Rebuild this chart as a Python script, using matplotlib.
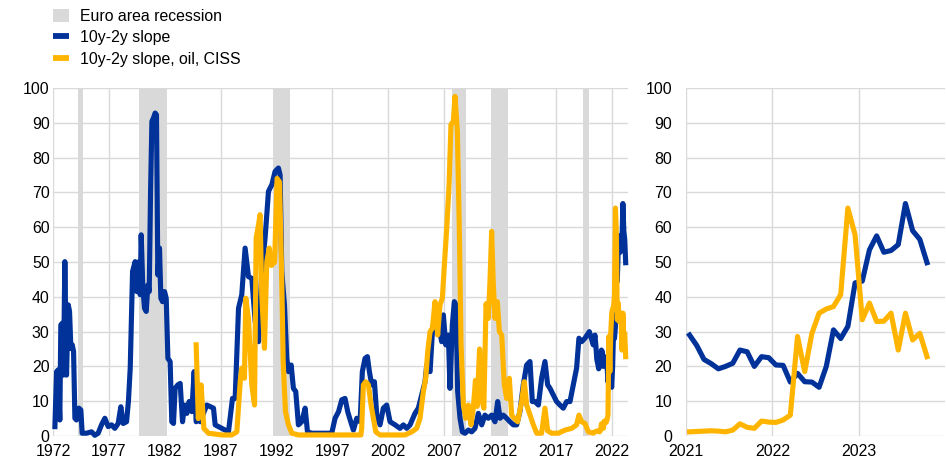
import matplotlib
matplotlib.use("Agg")
import matplotlib.pyplot as plt
from matplotlib.patches import Patch
from matplotlib.lines import Line2D

plt.rcParams['font.family'] = ['Liberation Sans', 'DejaVu Sans']

BLUE = '#003299'
YELLOW = '#FFB400'
GREY = '#D9D9D9'
GRID = '#D9D9D9'
FS = 11.4

# ---------------- data ----------------
legend_labels = ["Euro area recession", "10y-2y slope", "10y-2y slope, oil, CISS"]

# Euro area recessions (decimal years)
recession_start = [1974.75, 1980.25, 1992.25, 2008.25, 2011.75, 2020.0]
recession_end = [1975.25, 1982.75, 1993.75, 2009.5, 2013.25, 2020.5]

# Historical part of the series (decimal years, probability in %)
slope_dates = [
    1972.72, 1972.87, 1973.01, 1973.16, 1973.25, 1973.37, 1973.49, 1973.61, 1973.76, 1973.91,
    1974.03, 1974.15, 1974.27, 1974.39, 1974.51, 1974.65, 1974.86, 1975.04, 1975.16, 1975.55,
    1976.0, 1976.29, 1976.59, 1976.89, 1977.19, 1977.49, 1977.79, 1978.08, 1978.38, 1978.62,
    1978.83, 1979.13, 1979.3, 1979.46, 1979.67, 1979.9, 1980.05, 1980.2, 1980.35, 1980.44,
    1980.59, 1980.74, 1980.89, 1981.04, 1981.16, 1981.28, 1981.4, 1981.54, 1981.69, 1981.81,
    1981.93, 1982.08, 1982.2, 1982.35, 1982.53, 1982.68, 1982.83, 1983.03, 1983.18, 1983.33,
    1983.48, 1983.72, 1983.93, 1984.14, 1984.32, 1984.53, 1984.73, 1984.97, 1985.18, 1985.36,
    1985.57, 1985.72, 1986.31, 1986.91, 1987.06, 1987.66, 1988.25, 1988.61, 1988.85, 1989.15,
    1989.44, 1989.74, 1990.04, 1990.34, 1990.64, 1990.94, 1991.23, 1991.53, 1991.83, 1992.13,
    1992.42, 1992.72, 1992.87, 1993.02, 1993.26, 1993.47, 1993.62, 1993.86, 1994.06, 1994.27,
    1994.51, 1994.81, 1995.11, 1995.32, 1995.7, 1997.49, 1997.79, 1998.1, 1998.39, 1998.68,
    1998.92, 1999.2, 1999.43, 1999.73, 2000.03, 2000.23, 2000.47, 2000.68, 2000.86, 2001.07,
    2001.31, 2001.52, 2001.81, 2002.11, 2002.41, 2002.71, 2003.16, 2003.6, 2003.9, 2004.2,
    2004.5, 2004.94, 2005.24, 2005.54, 2005.84, 2005.99, 2006.29, 2006.5, 2006.73, 2007.03,
    2007.33, 2007.48, 2007.69, 2007.93, 2008.07, 2008.28, 2008.46, 2008.61, 2008.76, 2008.97,
    2009.18, 2009.42, 2009.72, 2010.01, 2010.31, 2010.61, 2010.91, 2011.2, 2011.5, 2011.8,
    2012.1, 2012.34, 2012.55, 2012.84, 2013.14, 2013.44, 2013.74, 2014.04, 2014.33, 2014.63,
    2014.93, 2015.23, 2015.44, 2015.68, 2015.98, 2016.27, 2016.57, 2016.81, 2017.02, 2017.32,
    2017.61, 2017.91, 2018.21, 2018.51, 2018.81, 2019.1, 2019.4, 2019.61, 2019.85, 2020.15,
    2020.54, 2020.89,
]
slope_values = [
    2.7, 18.5, 19, 4.6, 31.9, 32.4, 17.5, 50.1, 17.5, 37.7,
    35.8, 25.2, 26.2, 24.3, 5.1, 4.6, 8, 7.5, 0.8, 0.8,
    1.2, 0.2, 0.8, 3.2, 5.1, 2.7, 3.2, 2.2, 3.6, 8.4,
    3.6, 4.1, 10, 19.5, 47.3, 50.1, 41.5, 50, 40.6, 57.8,
    42.5, 36.7, 35.8, 43.4, 41.5, 70.3, 90.4, 91.4, 92.8, 92.3,
    46.3, 54, 39.6, 38.6, 41.5, 39.6, 22.3, 21.4, 4.1, 3.6,
    13.7, 14.7, 15.1, 4.1, 8.9, 6.5, 9.9, 7, 18.5, 4.1,
    5.1, 4.1, 8.9, 8, 3.2, 2.2, 1.2, 10.8, 10.8, 36.7,
    40.6, 54, 45.8, 45.3, 32.9, 27.1, 47.3, 57, 70.3, 72.2,
    76, 77, 75, 47.3, 37.7, 22.3, 18.5, 20.4, 13.7, 12.8,
    3.2, 4.1, 8, 1.2, 0.8, 0.8, 5.1, 7, 10.4, 10.8,
    7, 4, 1.7, 5.1, 4.1, 18.5, 22.3, 22.8, 18.5, 14.7,
    15.6, 6, 3.2, 8, 8.9, 4.1, 3.2, 2.2, 3.2, 2.2,
    3.2, 6.5, 8, 11.8, 15.6, 20.4, 18.5, 30, 34.8, 31.9,
    27.1, 34.8, 26.2, 29, 13.7, 31.9, 38.6, 37.7, 12.8, 5.1,
    1.2, 0.8, 1.7, 1.2, 2.2, 6.5, 3.2, 6, 5.1, 6,
    4.1, 9.9, 5.1, 6, 5.1, 4.1, 3.2, 3.2, 7, 14.7,
    20.4, 21.4, 9.9, 9.9, 8.9, 16.6, 21.4, 14.7, 13.7, 11.8,
    9.9, 8.9, 8, 9.9, 9.9, 14.7, 19.5, 28.1, 27.1, 28.1,
    30, 26.2,
]

full_dates = [
    1985.36, 1985.55, 1985.8, 1986.05, 1986.46, 1987.66, 1988.55, 1989.0, 1989.3, 1989.44,
    1989.68, 1989.8, 1990.04, 1990.34, 1990.58, 1990.73, 1990.94, 1991.08, 1991.23, 1991.47,
    1991.68, 1991.9, 1992.1, 1992.38, 1992.6, 1992.82, 1993.0, 1993.15, 1993.35, 1993.62,
    1993.92, 1994.51, 2000.1, 2000.17, 2000.32, 2000.53, 2000.77, 2001.01, 2001.22, 2001.43,
    2001.81, 2004.05, 2004.65, 2005.09, 2005.39, 2005.69, 2005.9, 2006.08, 2006.29, 2006.5,
    2006.73, 2006.97, 2007.18, 2007.39, 2007.57, 2007.78, 2007.99, 2008.16, 2008.37, 2008.52,
    2008.73, 2008.91, 2009.06, 2009.27, 2009.48, 2009.72, 2009.95, 2010.16, 2010.35, 2010.5,
    2010.72, 2010.92, 2011.1, 2011.3, 2011.5, 2011.65, 2011.8, 2011.95, 2012.1, 2012.31,
    2012.49, 2012.7, 2012.93, 2013.14, 2013.38, 2013.59, 2013.83, 2014.13, 2014.48, 2014.72,
    2014.93, 2015.23, 2015.53, 2015.83, 2016.27, 2016.57, 2016.81, 2017.17, 2017.76, 2018.36,
    2018.96, 2019.4, 2019.61, 2019.85, 2020.15, 2020.45, 2020.89,
]
full_values = [
    26.2, 5, 14.7, 2.2, 0.8, 0.3, 0.3, 1.2, 15.6, 19.5,
    16.6, 39.6, 33.8, 14.7, 8.9, 56.9, 60.7, 63.6, 40.6, 25.2,
    50, 54, 49, 50, 74, 73, 48, 21, 7, 3.2,
    0.8, 0.3, 0.3, 2.2, 14.7, 15.6, 14.7, 8.9, 5.1, 1.2,
    0.3, 0.3, 1.2, 2.2, 5.1, 12.8, 16.6, 24.3, 30, 31,
    38.6, 29, 37.7, 39.6, 49.2, 59.7, 72.2, 89.5, 90.4, 97.6,
    87.6, 58.8, 26.2, 8.9, 5.1, 8.9, 3.2, 8, 16, 8.5,
    25, 10.5, 8, 38, 33.8, 44.5, 58.8, 43.4, 33.8, 38.6,
    30, 29, 14.7, 10.8, 16.6, 6, 5.1, 4.1, 9.9, 15.6,
    8.9, 6, 3.2, 0.8, 0.8, 8, 1.5, 0.8, 0.8, 1.7,
    2.2, 3.2, 6, 4.1, 3.6, 1.2, 0.8,
]

# Monthly values, January 2021 - October 2023
recent_months = 34
slope_recent = [29, 26, 22, 20.8, 19.3, 20, 20.9, 24.7, 24.2, 20,
                22.8, 22.5, 20.4, 20.3, 15.5, 18, 15.6, 15.5, 14, 20,
                30.5, 28, 31.5, 44, 44.5, 53.5, 57.5, 52.8, 53.3, 55,
                66.8, 59, 56.5, 49.8]
full_recent = [1.2, 1.3, 1.4, 1.5, 1.4, 1.2, 1.7, 3.5, 2.5, 2.2,
               4.3, 4.0, 3.9, 4.6, 6, 28.6, 18.5, 29.5, 35.3, 36.5,
               37.2, 40.6, 65.5, 57.8, 33.4, 38.2, 32.9, 33, 35.3, 24.7,
               35.3, 27.6, 29.5, 22.8]

left_tick_years = [1972, 1977, 1982, 1987, 1992, 1997, 2002, 2007, 2012, 2017, 2022]
right_tick_years = [2021, 2022, 2023]
y_ticks = list(range(0, 101, 10))

assert len(slope_dates) == len(slope_values)
assert len(full_dates) == len(full_values)

recent_dates = [2021 + (m + 0.5) / 12 for m in range(recent_months)]

# ---------------- figure ----------------
W, H = 946, 466
fig = plt.figure(figsize=(W / 100, H / 100), dpi=100)
ax1 = fig.add_axes([53 / W, 30 / H, 575 / W, 348 / H])
ax2 = fig.add_axes([686 / W, 30 / H, 259 / W, 348 / H])

LW = 3.7
TICK_OFFSET = 0.55  # label positions in the left panel sit mid-year

for ax in (ax1, ax2):
    ax.set_ylim(0, 100)
    ax.set_yticks(y_ticks)
    for s in ax.spines.values():
        s.set_visible(False)
    ax.grid(True, color=GRID, linewidth=1.0)
    ax.set_axisbelow(True)
    ax.tick_params(length=0, labelsize=FS, colors='black')

ax1.tick_params(axis='y', pad=2.5)
ax1.tick_params(axis='x', pad=6)
ax2.tick_params(axis='y', pad=10)
ax2.tick_params(axis='x', pad=6)

# left panel
for s, e in zip(recession_start, recession_end):
    ax1.axvspan(s, e, color=GREY, linewidth=0, zorder=0.5)
ax1.plot(slope_dates + recent_dates, slope_values + slope_recent, color=BLUE,
         lw=LW, solid_joinstyle='round', clip_on=False, zorder=3)
ax1.plot(full_dates + recent_dates, full_values + full_recent, color=YELLOW,
         lw=LW, solid_joinstyle='round', clip_on=False, zorder=4)
ax1.set_xlim(1972 + TICK_OFFSET, 2024.0)
ax1.set_xticks([y + TICK_OFFSET for y in left_tick_years])
ax1.set_xticklabels([str(y) for y in left_tick_years])

# right panel
ax2.plot(recent_dates, slope_recent, color=BLUE, lw=LW, solid_joinstyle='round',
         clip_on=False, zorder=3)
ax2.plot(recent_dates, full_recent, color=YELLOW, lw=LW, solid_joinstyle='round',
         clip_on=False, zorder=4)
ax2.set_xlim(2021, 2024)
ax2.set_xticks(right_tick_years)
ax2.set_xticklabels([str(y) for y in right_tick_years])

handles = [Patch(facecolor=GREY, edgecolor='none'),
           Line2D([], [], color=BLUE, lw=4.2, solid_capstyle='butt'),
           Line2D([], [], color=YELLOW, lw=4.2, solid_capstyle='butt')]
fig.legend(handles, legend_labels, loc='upper left',
           bbox_to_anchor=(53 / W, 1 - 9 / H), frameon=False, fontsize=FS,
           handlelength=1.0, handleheight=0.85, handletextpad=0.7,
           labelspacing=0.4, borderpad=0, borderaxespad=0)

fig.savefig('out.png', dpi=100)
